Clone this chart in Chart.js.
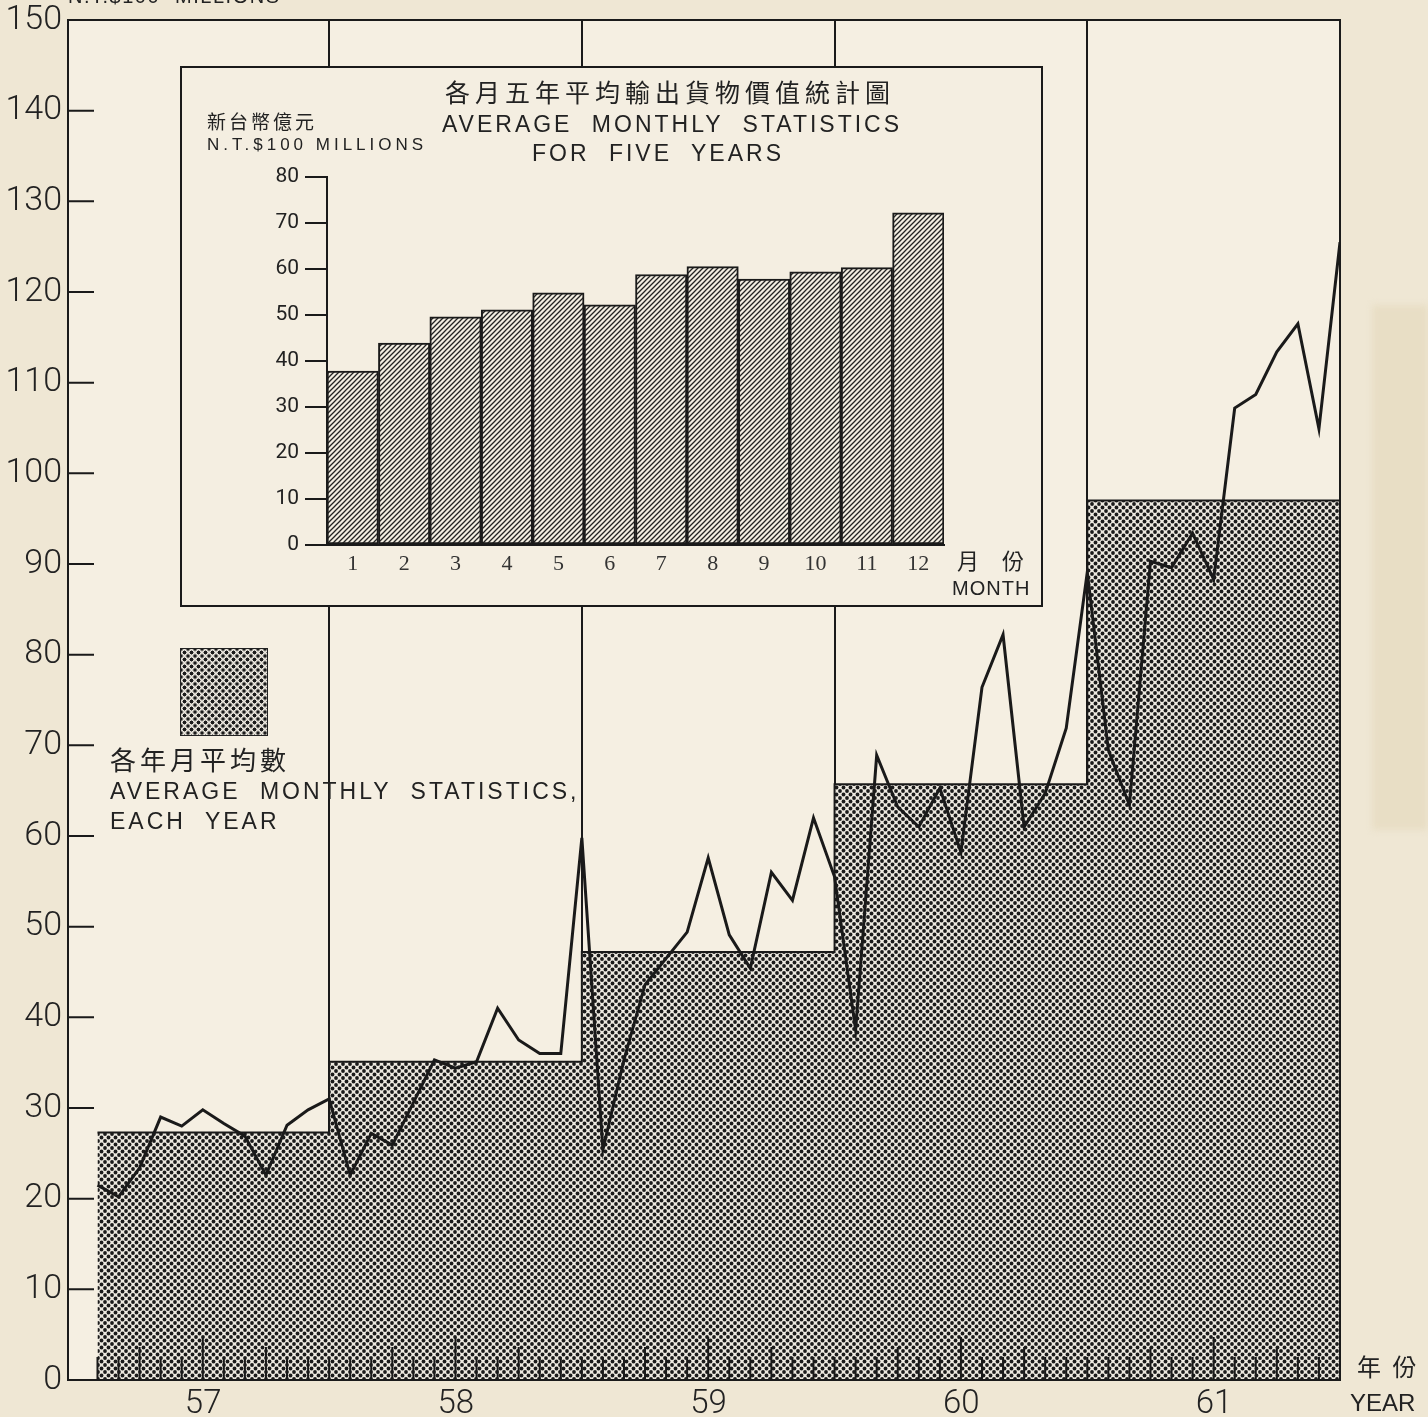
<!DOCTYPE html>
<html lang="zh-Hant">
<head>
  <meta charset="UTF-8" />
  <title>Export Monthly Statistics 57-61</title>
  <script src="https://cdn.jsdelivr.net/npm/chart.js"></script>
  <style>
    html, body { margin: 0; padding: 0; background: #efe7d4; overflow: hidden; }
    #page { position: relative; width: 1428px; height: 1417px; }
    canvas { position: absolute; }
    .t { position: absolute; white-space: nowrap; line-height: 1; color: #222;
         font-family: "Liberation Sans", Roboto, sans-serif; }
    .cjk { font-family: "Noto Sans CJK TC", "Noto Sans CJK SC", sans-serif; }
    .c { transform: translateX(-50%); }
  </style>
</head>
<body>
<div id="page">
  <div style="position:absolute;left:1372px;top:305px;width:56px;height:525px;background:#e8dec5;filter:blur(3px)"></div>
  <canvas id="mainChart" width="1428" height="1417" style="left:0;top:0"></canvas>

  <div class="t" style="left:68px;top:-14px;font-size:20px;letter-spacing:1.5px;word-spacing:8px">N.T.$100 MILLIONS</div>

  <canvas id="insetChart" width="863" height="541" style="left:180px;top:66px"></canvas>
  <div class="t cjk c" style="left:670px;top:79px;font-size:25px;letter-spacing:5px">各月五年平均輸出貨物價值統計圖</div>
  <div class="t c" style="left:672px;top:113px;font-size:23px;letter-spacing:3px;word-spacing:10px">AVERAGE MONTHLY STATISTICS</div>
  <div class="t c" style="left:658px;top:142px;font-size:23px;letter-spacing:3px;word-spacing:10px">FOR FIVE YEARS</div>
  <div class="t cjk" style="left:207px;top:111px;font-size:19px;letter-spacing:3px">新台幣億元</div>
  <div class="t" style="left:207px;top:136px;font-size:17px;letter-spacing:4px">N.T.$100 MILLIONS</div>
  <div class="t cjk" style="left:957px;top:548px;font-size:22px;word-spacing:18px">月 份</div>
  <div class="t" style="left:952px;top:578px;font-size:20px;letter-spacing:1px">MONTH</div>

  <div style="position:absolute;left:180px;top:648px;width:86px;height:86px;border:1.5px solid #222;
       background: radial-gradient(circle, #1b1b1b 1.8px, transparent 2.2px) 0 0 / 7px 7px,
                   radial-gradient(circle, #1b1b1b 1.8px, transparent 2.2px) 3.5px 3.5px / 7px 7px, #ece8df"></div>
  <div class="t cjk" style="left:110px;top:746px;font-size:26px;letter-spacing:4px">各年月平均數</div>
  <div class="t" style="left:110px;top:780px;font-size:23px;letter-spacing:3px;word-spacing:10px">AVERAGE MONTHLY STATISTICS,</div>
  <div class="t" style="left:110px;top:810px;font-size:23px;letter-spacing:3px;word-spacing:10px">EACH YEAR</div>

  <div class="t cjk" style="left:1357px;top:1354px;font-size:24px;word-spacing:6px">年 份</div>
  <div class="t" style="left:1350px;top:1391px;font-size:24px">YEAR</div>
</div>

<script>
  // Main chart: monthly export value, N.T.$100 millions
  const years = ['57', '58', '59', '60', '61'];
  const yearAverages = [27.3, 35.1, 47.2, 65.7, 97.0];
  const months57 = [21.5, 20.2, 23.4, 29.0, 28.0, 29.8, 28.3, 26.9, 22.6, 28.1, 29.8, 31.0];
  const months58 = [22.6, 27.2, 25.9, 30.6, 35.3, 34.4, 35.1, 41.0, 37.5, 36.0, 36.0, 59.8];
  const months59 = [25.4, 35.3, 43.6, 46.5, 49.4, 57.6, 49.1, 45.4, 56.0, 52.9, 62.0, 55.5];
  const months60 = [38.6, 68.9, 63.2, 61.0, 65.3, 58.2, 76.4, 82.2, 61.0, 64.7, 71.9, 89.1];
  const months61 = [69.5, 63.4, 90.3, 89.6, 93.4, 88.3, 107.2, 108.7, 113.4, 116.5, 104.9, 125.5];

  // Inset: five-year average per month
  const insetMonths = ['1', '2', '3', '4', '5', '6', '7', '8', '9', '10', '11', '12'];
  const insetValues = [37.8, 43.9, 49.6, 51.1, 54.8, 52.2, 58.8, 60.5, 57.8, 59.4, 60.3, 72.2];

  const ink = '#1a1a1a';

  function dotPattern() {
    const c = document.createElement('canvas');
    c.width = 7; c.height = 7;
    const g = c.getContext('2d');
    g.fillStyle = '#ece8df';
    g.fillRect(0, 0, 7, 7);
    g.fillStyle = '#1b1b1b';
    [[0, 0], [7, 0], [0, 7], [7, 7], [3.5, 3.5]].forEach(([x, y]) => {
      g.beginPath(); g.arc(x, y, 1.9, 0, Math.PI * 2); g.fill();
    });
    return g.createPattern(c, 'repeat');
  }

  function hatchPattern() {
    const s = 5;
    const c = document.createElement('canvas');
    c.width = s; c.height = s;
    const g = c.getContext('2d');
    g.fillStyle = '#f3eee2';
    g.fillRect(0, 0, s, s);
    g.strokeStyle = '#222';
    g.lineWidth = 1.3;
    g.beginPath();
    g.moveTo(0, s); g.lineTo(s, 0);
    g.moveTo(-1, 1); g.lineTo(1, -1);
    g.moveTo(s - 1, s + 1); g.lineTo(s + 1, s - 1);
    g.stroke();
    return g.createPattern(c, 'repeat');
  }

  const allMonths = [months57, months58, months59, months60, months61].flat();
  const monthPoints = allMonths.map((v, i) => ({ x: i, y: v }));
  // each year block runs from the previous December to its own December
  const avgPoints = [];
  yearAverages.forEach((v, k) => {
    avgPoints.push({ x: k === 0 ? 0 : 12 * k - 1, y: v });
    avgPoints.push({ x: 12 * k + 11, y: v });
  });
  const yearEnds = years.map((_, k) => 12 * k + 11);

  function noPad(s) {
    s.paddingTop = 0; s.paddingBottom = 0; s.paddingLeft = 0; s.paddingRight = 0;
  }

  const mainFrame = {
    id: 'mainFrame',
    beforeDraw(chart) {
      const { ctx, chartArea: a } = chart;
      ctx.save();
      ctx.fillStyle = '#f5efe2';
      ctx.fillRect(a.left, a.top, a.right - a.left, a.bottom - a.top);
      ctx.restore();
    },
    afterDraw(chart) {
      const { ctx, chartArea: a, scales } = chart;
      ctx.save();
      ctx.strokeStyle = ink;
      ctx.lineWidth = 2;
      ctx.strokeRect(a.left, a.top, a.right - a.left, a.bottom - a.top);
      // y ticks pointing into the plot
      ctx.beginPath();
      scales.y.ticks.forEach(t => {
        if (t.value <= 0 || t.value >= 150) return;
        const y = scales.y.getPixelForValue(t.value);
        ctx.moveTo(a.left, y); ctx.lineTo(a.left + 26, y);
      });
      // month ticks along the base
      allMonths.forEach((_, i) => {
        const m = i % 12;
        const len = m === 5 ? 43 : (m === 2 || m === 8) ? 33 : 23;
        const x = scales.x.getPixelForValue(i);
        ctx.moveTo(x, a.bottom); ctx.lineTo(x, a.bottom - len);
      });
      ctx.stroke();
      ctx.restore();
    }
  };

  new Chart(document.getElementById('mainChart'), {
    type: 'line',
    data: {
      datasets: [
        {
          data: monthPoints,
          borderColor: ink,
          borderWidth: 3,
          pointRadius: 0,
          tension: 0,
          fill: false
        },
        {
          data: avgPoints,
          borderColor: ink,
          borderWidth: 2,
          pointRadius: 0,
          fill: 'origin',
          backgroundColor: dotPattern()
        }
      ]
    },
    options: {
      responsive: false,
      animation: false,
      layout: { padding: { left: 0, right: 88, top: 20, bottom: 0 } },
      plugins: { legend: { display: false }, tooltip: { enabled: false } },
      scales: {
        x: {
          type: 'linear',
          min: -1.4,
          max: 59,
          z: 1,
          afterBuildTicks: s => { s.ticks = yearEnds.map(v => ({ value: v })); },
          afterFit: s => { s.height = 37; noPad(s); },
          grid: { color: ink, lineWidth: 2, drawTicks: false },
          border: { display: true, color: ink, width: 2 },
          ticks: {
            callback: (v, i) => years[i],
            labelOffset: -126,
            padding: 5,
            maxRotation: 0,
            autoSkip: false,
            color: '#222',
            font: { family: 'Roboto', weight: '300', size: 33 }
          }
        },
        y: {
          min: 0,
          max: 150,
          afterFit: s => { s.width = 68; noPad(s); },
          grid: { display: false, drawTicks: false },
          border: { display: true, color: ink, width: 2 },
          ticks: {
            stepSize: 10,
            padding: 6,
            color: '#222',
            font: { family: 'Roboto', weight: '300', size: 34 }
          }
        }
      }
    },
    plugins: [mainFrame]
  });

  const insetFrame = {
    id: 'insetFrame',
    beforeDraw(chart) {
      const { ctx, width, height } = chart;
      ctx.save();
      ctx.fillStyle = '#f4eee1';
      ctx.fillRect(0, 0, width, height);
      ctx.strokeStyle = ink;
      ctx.lineWidth = 2;
      ctx.strokeRect(1, 1, width - 2, height - 2);
      ctx.restore();
    }
  };

  new Chart(document.getElementById('insetChart'), {
    type: 'bar',
    data: {
      labels: insetMonths,
      datasets: [{
        data: insetValues,
        backgroundColor: hatchPattern(),
        borderColor: ink,
        borderWidth: 2,
        borderSkipped: false,
        barPercentage: 1,
        categoryPercentage: 1
      }]
    },
    options: {
      responsive: false,
      animation: false,
      layout: { padding: { left: 0, right: 99, top: 111, bottom: 0 } },
      plugins: { legend: { display: false }, tooltip: { enabled: false } },
      scales: {
        x: {
          afterFit: s => { s.height = 62; noPad(s); },
          grid: { display: false, drawTicks: false },
          border: { display: true, color: ink, width: 2 },
          ticks: { padding: 6, color: '#333', font: { family: 'Liberation Serif', size: 22 } }
        },
        y: {
          min: 0,
          max: 80,
          afterFit: s => { s.width = 147; noPad(s); },
          grid: { drawOnChartArea: false, drawTicks: true, tickLength: 22, color: ink, lineWidth: 2 },
          border: { display: true, color: ink, width: 2 },
          ticks: { stepSize: 10, padding: 6, color: '#222', font: { family: 'Roboto', size: 21 } }
        }
      }
    },
    plugins: [insetFrame]
  });
</script>
</body>
</html>
